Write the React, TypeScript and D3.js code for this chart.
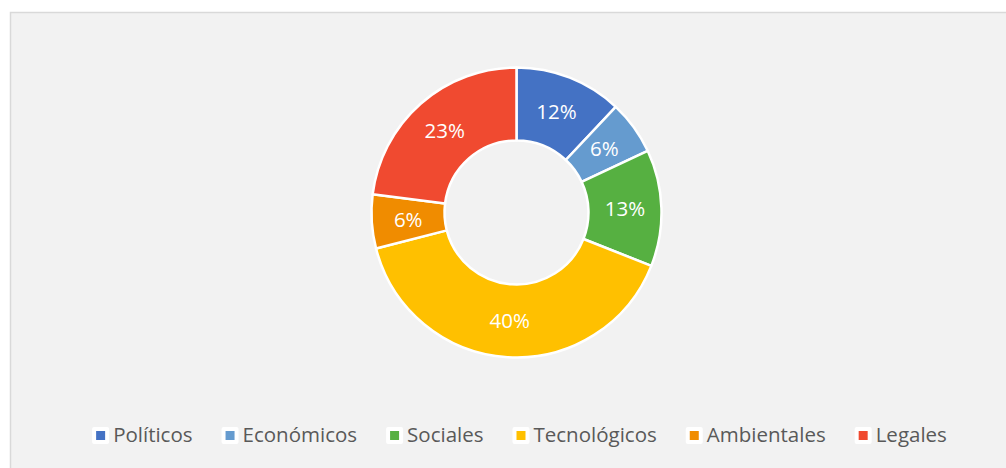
import { useEffect, useRef } from 'react'
import * as d3 from 'd3'

const categories = ['Políticos', 'Económicos', 'Sociales', 'Tecnológicos', 'Ambientales', 'Legales']
const values = [12, 6, 13, 40, 6, 23]
const colors = ['#4472c4', '#659bcf', '#56b041', '#ffc000', '#f08c00', '#f04a30']

const W = 1006
const H = 468

const DonutChart = () => {
  const ref = useRef<SVGSVGElement>(null)

  const draw = () => {
    const svg = d3.select(ref.current)
    svg.selectAll('*').remove()

    // chart area background
    svg.append('rect')
      .attr('x', 10.5).attr('y', 12.5)
      .attr('width', 1030).attr('height', 480)
      .attr('fill', '#f2f2f2')
      .attr('stroke', '#d9d9d9')
      .attr('stroke-width', 1.5)

    const cx = 516.5, cy = 212.5
    const outerR = 145, innerR = 72

    const pie = d3.pie<number>().sort(null).value(d => d)
    const arcs = pie(values)
    const arc = d3.arc<d3.PieArcDatum<number>>().innerRadius(innerR).outerRadius(outerR)

    const g = svg.append('g').attr('transform', `translate(${cx},${cy})`)
    g.selectAll('path')
      .data(arcs)
      .enter()
      .append('path')
      .attr('d', arc)
      .attr('fill', (d, i) => colors[i])
      .attr('stroke', '#ffffff')
      .attr('stroke-width', 2.5)
      .attr('stroke-linejoin', 'round')

    const total = d3.sum(values)
    g.selectAll('text.lbl')
      .data(arcs)
      .enter()
      .append('text')
      .attr('class', 'lbl')
      .attr('x', d => arc.centroid(d)[0])
      .attr('y', d => arc.centroid(d)[1])
      .attr('dy', '0.35em')
      .attr('text-anchor', 'middle')
      .style('font-family', '"Open Sans", sans-serif')
      .style('font-size', '20.5px')
      .attr('fill', '#ffffff')
      .text(d => d3.format('.0%')(d.value / total))

    // legend
    const legend = svg.append('g')
    const items = legend.selectAll('g.item')
      .data(categories)
      .enter()
      .append('g')
      .attr('class', 'item')
    items.append('rect')
      .attr('x', -4).attr('y', -8)
      .attr('width', 17).attr('height', 17)
      .attr('rx', 2)
      .attr('fill', '#ffffff')
    items.append('rect')
      .attr('x', 0).attr('y', -4)
      .attr('width', 9).attr('height', 9)
      .attr('fill', (d, i) => colors[i])
    items.append('text')
      .attr('x', 17).attr('y', 0)
      .attr('dy', '0.35em')
      .style('font-family', '"Open Sans", sans-serif')
      .style('font-size', '20.5px')
      .attr('fill', '#595959')
      .text(d => d)

    const widths: number[] = []
    items.select('text').each(function () {
      widths.push(17 + (this as SVGTextElement).getComputedTextLength())
    })
    const gap = 33
    const totalW = d3.sum(widths) + gap * (widths.length - 1)
    let x = 521.5 - totalW / 2
    items.attr('transform', (d, i) => {
      const t = `translate(${x},435)`
      x += widths[i] + gap
      return t
    })
  }

  useEffect(() => {
    draw()
  }, [])

  return (
    <svg ref={ref} width={W} height={H} style={{ position: 'absolute', left: 0, top: 0 }} />
  )
}

export default function App() {
  return <DonutChart />
}
